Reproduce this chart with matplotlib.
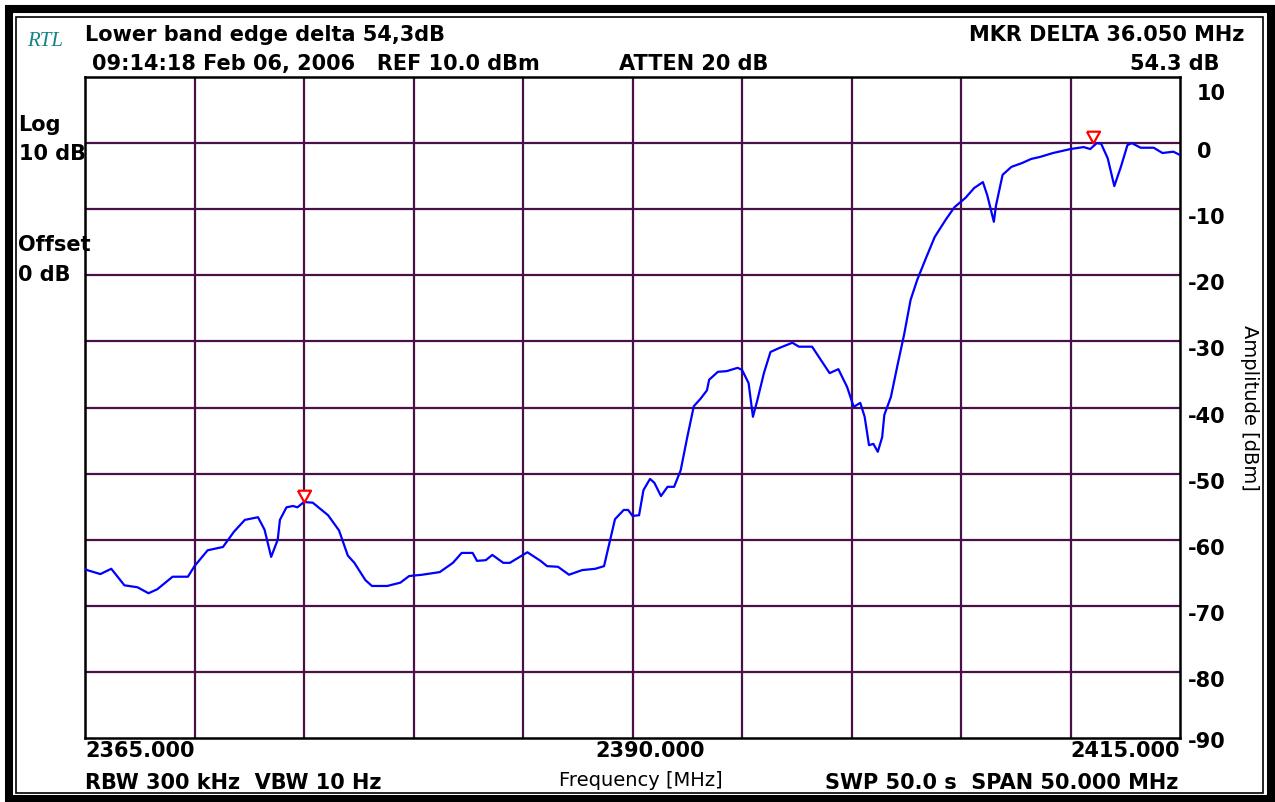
import matplotlib
matplotlib.use('Agg')
import matplotlib.pyplot as plt
from matplotlib.patches import Rectangle
from matplotlib.transforms import blended_transform_factory, offset_copy

plt.rcParams['font.family'] = ['DejaVu Sans']

# trace (MHz, dBm)
freq = [2365.0, 2365.1, 2365.7, 2366.2, 2366.8, 2367.4, 2367.9, 2368.3, 2369.0, 2369.7,
        2370.0, 2370.6, 2371.3, 2371.8, 2372.3, 2372.9, 2373.2, 2373.5, 2373.8, 2373.9,
        2374.2, 2374.5, 2374.7, 2375.0, 2375.4, 2376.1, 2376.6, 2377.0, 2377.3, 2377.8,
        2378.1, 2378.8, 2379.4, 2379.8, 2380.4, 2381.2, 2381.8, 2382.2, 2382.7, 2382.9,
        2383.3, 2383.6, 2384.1, 2384.4, 2385.2, 2385.8, 2386.1, 2386.6, 2387.1, 2387.7,
        2388.3, 2388.7, 2389.0, 2389.2, 2389.6, 2389.8, 2390.0, 2390.3, 2390.5, 2390.8,
        2391.0, 2391.3, 2391.6, 2391.9, 2392.2, 2392.5, 2392.8, 2393.1, 2393.4, 2393.5,
        2393.9, 2394.3, 2394.8, 2395.0, 2395.3, 2395.5, 2395.7, 2396.0, 2396.3, 2396.7,
        2397.3, 2397.6, 2398.2, 2398.6, 2399.0, 2399.4, 2399.8, 2400.1, 2400.4, 2400.6,
        2400.8, 2401.0, 2401.2, 2401.4, 2401.5, 2401.8, 2402.1, 2402.4, 2402.7, 2403.0,
        2403.4, 2403.8, 2404.3, 2404.7, 2405.2, 2405.6, 2406.0, 2406.2, 2406.5, 2406.6,
        2406.9, 2407.3, 2407.8, 2408.2, 2408.6, 2409.2, 2410.0, 2410.6, 2410.9, 2411.2,
        2411.4, 2411.7, 2412.0, 2412.3, 2412.6, 2412.8, 2413.2, 2413.8, 2414.2, 2414.7,
        2415.0]
level = [-64.4, -64.6, -65.2, -64.4, -66.9, -67.2, -68.1, -67.5, -65.6, -65.6,
         -64.0, -61.6, -61.1, -58.8, -57.0, -56.6, -58.5, -62.6, -60.0, -57.0,
         -55.1, -54.9, -55.1, -54.3, -54.4, -56.3, -58.6, -62.4, -63.5, -66.1,
         -67.0, -67.0, -66.5, -65.5, -65.3, -64.9, -63.5, -62.0, -62.0, -63.2,
         -63.1, -62.3, -63.5, -63.5, -61.9, -63.2, -64.0, -64.1, -65.3, -64.6,
         -64.4, -64.0, -59.7, -56.9, -55.5, -55.5, -56.4, -56.3, -52.5, -50.8,
         -51.4, -53.4, -52.0, -52.0, -49.5, -44.5, -39.8, -38.7, -37.4, -35.8,
         -34.6, -34.5, -34.0, -34.3, -36.3, -41.4, -38.9, -34.8, -31.6, -31.0,
         -30.2, -30.8, -30.8, -32.8, -34.8, -34.2, -36.9, -39.9, -39.3, -41.4,
         -45.7, -45.5, -46.7, -44.5, -41.1, -38.4, -33.6, -29.0, -23.7, -20.7,
         -17.4, -14.2, -11.6, -9.7, -8.3, -6.8, -5.9, -7.9, -11.9, -9.4,
         -4.8, -3.6, -3.0, -2.4, -2.1, -1.5, -0.9, -0.6, -0.9, 0.0,
         -0.1, -2.3, -6.5, -3.6, -0.3, 0.0, -0.7, -0.7, -1.5, -1.3,
         -1.8]

marker_freq = [2375.0, 2411.05]
marker_level = [-54.3, 0.0]

y_ticks = [10, 0, -10, -20, -30, -40, -50, -60, -70, -80, -90]
x_ticks = [2365.0, 2390.0, 2415.0]

grid_col = '#4a1048'
W, H = 1275, 802

fig = plt.figure(figsize=(12.75, 8.02), dpi=100)

# screen frame: thick outer border and thin inner line
fig.patches.append(Rectangle((9/W, 3/H), 1262/W, 790/H, transform=fig.transFigure,
                             fill=False, edgecolor='black', linewidth=5.8, zorder=0))
fig.patches.append(Rectangle((16/W, 9/H), 1247/W, 776/H, transform=fig.transFigure,
                             fill=False, edgecolor='black', linewidth=1.2, zorder=0))

ax = fig.add_axes([85/W, 64/H, 1095/W, 661/H])
ax.set_xlim(2365, 2415)
ax.set_ylim(-90, 10)

for f in range(2370, 2415, 5):
    ax.axvline(f, color=grid_col, lw=1.6, zorder=1)
for v in range(-80, 10, 10):
    ax.axhline(v, color=grid_col, lw=1.6, zorder=1)

ax.plot(freq, level, color='#0000ff', lw=1.6, zorder=3)
tri = [(-1, 1.8), (1, 1.8), (0, 0), (-1, 1.8)]
ax.plot(marker_freq, marker_level, ls='none', marker=tri, markersize=17,
        markerfacecolor='white', markeredgecolor='red', markeredgewidth=1.6, zorder=4)

for s in ax.spines.values():
    s.set_linewidth(1.8)
    s.set_color('black')
ax.set_xticks([])
ax.set_yticks([])

bold = dict(fontsize=15, fontweight='bold', color='black')
ty = blended_transform_factory(fig.transFigure, ax.transData)
for v in y_ticks:
    drop = 23 if v == 10 else (10 if v == -90 else 15)
    xpos = 1188 if v < 0 else 1197
    tr = offset_copy(ty, fig=fig, x=0, y=-drop, units='dots')
    ax.text(xpos/W, v, str(v), transform=tr, ha='left', va='baseline', **bold)

tx = blended_transform_factory(ax.transData, fig.transFigure)
yb = 1 - 757/H
ax.text(x_ticks[0], yb, '%.3f' % x_ticks[0], transform=tx, ha='left', va='baseline', **bold)
ax.text(x_ticks[1] + 0.8, yb, '%.3f' % x_ticks[1], transform=tx, ha='center', va='baseline', **bold)
ax.text(x_ticks[2], yb, '%.3f' % x_ticks[2], transform=tx, ha='right', va='baseline', **bold)


def put(x, ybase, s, ha='left', **kw):
    fig.text(x/W, 1 - ybase/H, s, ha=ha, va='baseline', **kw)


# header / footer annotations
put(27, 46, 'RTL', fontsize=15, style='italic', family='Liberation Serif', color='#138585')
put(85, 41, 'Lower band edge delta 54,3dB', **bold)
put(92, 70, '09:14:18 Feb 06, 2006   REF 10.0 dBm', **bold)
put(619, 70, 'ATTEN 20 dB', **bold)
put(1244, 41, 'MKR DELTA 36.050 MHz', ha='right', **bold)
put(1220, 70, '54.3 dB', ha='right', **bold)

put(18, 131, 'Log', **bold)
put(19, 160, '10 dB', **bold)
put(18, 251, 'Offset', **bold)
put(18, 281, '0 dB', **bold)

put(85, 789, 'RBW 300 kHz  VBW 10 Hz', **bold)
put(641, 786, 'Frequency [MHz]', ha='center', fontsize=14)
put(1178, 789, 'SWP 50.0 s  SPAN 50.000 MHz', ha='right', **bold)
fig.text(1250/W, 1 - 408/H, 'Amplitude [dBm]', fontsize=14, rotation=-90,
         ha='center', va='center')

fig.savefig('out.png', dpi=100)
